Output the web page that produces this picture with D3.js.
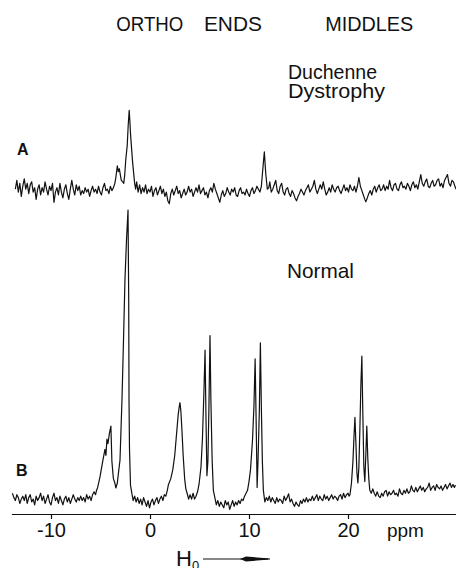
<!DOCTYPE html>
<html>
<head>
<meta charset="utf-8">
<script src="https://cdn.jsdelivr.net/npm/d3@7"></script>
<style>
  body { margin: 0; background: #fff; }
  svg { display: block; }
  text { font-family: "Liberation Sans", Arial, sans-serif; fill: #111; }
</style>
</head>
<body>
<script>
// chemical shift axis
const tickValues = [-10, 0, 10, 20];
const axisUnit = 'ppm';

// top assignments (left edge of each word, in ppm)
const regionLabels = [
  { text: 'ORTHO', ppm: -3.4, len: 67 },
  { text: 'ENDS', ppm: 5.45, len: 58 },
  { text: 'MIDDLES', ppm: 17.7, len: 88 }
];

// trace A: Duchenne dystrophy  [ppm, intensity]
const spectrumA = [
  [-13.6, 2], [-13.45, 5], [-13.3, 1], [-13.15, 4], [-13.0, -0.5], [-12.85, 3], [-12.7, 5.5],
  [-12.55, 2], [-12.4, 4], [-12.25, 0.5], [-12.1, 3.5], [-11.95, 4.5], [-11.8, 1], [-11.65, 2.5],
  [-11.5, -1.5], [-11.35, 2], [-11.2, 3.5], [-11.05, 0], [-10.9, 2.5], [-10.75, 1], [-10.6, 4.5],
  [-10.45, 2], [-10.3, 0], [-10.15, 3], [-10.0, 1.5], [-9.85, 4], [-9.7, -2.5], [-9.55, 1],
  [-9.4, 2.5], [-9.25, 0], [-9.1, 4], [-8.95, 1], [-8.8, -1], [-8.65, 2], [-8.5, 3.5],
  [-8.35, 0.5], [-8.2, -1.5], [-8.05, 2], [-7.9, 5], [-7.75, 2], [-7.6, 0], [-7.45, 3.5],
  [-7.3, 1.5], [-7.15, 3], [-7.0, 0], [-6.85, 1.5], [-6.7, 0.5], [-6.55, 2.5], [-6.4, 1],
  [-6.25, 2], [-6.1, -0.5], [-5.95, 1.5], [-5.8, 3], [-5.65, 1], [-5.5, 2], [-5.35, 0.5],
  [-5.2, 3], [-5.05, 1], [-4.9, 0], [-4.75, 2.5], [-4.6, 4], [-4.45, 1.5], [-4.3, 2],
  [-4.15, 0.5], [-4.0, 3], [-3.85, 1.5], [-3.7, 2.5], [-3.55, 4], [-3.45, 6], [-3.3, 10],
  [-3.2, 8], [-3.1, 9], [-3.0, 7], [-2.9, 5], [-2.75, 4.5], [-2.65, 4], [-2.55, 7],
  [-2.45, 12], [-2.3, 17], [-2.2, 24], [-2.1, 29], [-2.03, 25], [-1.95, 20], [-1.75, 11],
  [-1.55, 4], [-1.45, 2], [-1.35, 4.5], [-1.2, 1], [-1.05, 3.5], [-0.9, 0.5], [-0.75, 2.5],
  [-0.6, 1], [-0.45, 3.5], [-0.3, 0.5], [-0.15, 2], [0.0, 1], [0.15, 3], [0.3, -0.5],
  [0.45, 1.5], [0.6, 2.5], [0.75, 0], [0.9, 1.5], [1.05, 3], [1.2, 0.5], [1.35, 2],
  [1.5, -0.5], [1.65, 1], [1.8, -2], [1.95, -3], [2.1, 0.5], [2.25, 2], [2.4, 0],
  [2.55, 1.5], [2.7, 3], [2.85, 0.5], [3.0, 1.5], [3.15, -1], [3.3, 0.5], [3.45, 2],
  [3.6, 0], [3.75, 1], [3.9, 3], [4.05, 1], [4.2, 2], [4.35, -0.5], [4.5, 1],
  [4.65, 2.5], [4.8, 1], [4.95, 3.5], [5.1, 0.5], [5.25, 1.5], [5.4, 2.5], [5.55, 0],
  [5.7, 1], [5.85, -1], [6.0, 1.5], [6.15, 2.5], [6.3, 1], [6.45, 4], [6.6, 2],
  [6.75, 0.5], [6.9, -1], [7.05, -2.5], [7.2, 0], [7.35, 1.5], [7.5, -0.5], [7.65, 0.5],
  [7.8, 2.5], [7.95, 1], [8.1, 0], [8.25, 2], [8.4, 1], [8.55, 2.5], [8.7, 0],
  [8.85, -0.5], [9.0, 1.5], [9.15, 2.5], [9.3, 0.5], [9.45, 1], [9.6, 0], [9.75, 2],
  [9.9, 0.5], [10.05, -0.5], [10.2, 1.5], [10.35, 2.5], [10.5, 0.5], [10.65, 1.5], [10.8, 3],
  [10.95, 2], [11.1, 1], [11.25, 3], [11.35, 7], [11.45, 11], [11.55, 14.8], [11.62, 11],
  [11.7, 7], [11.85, 2], [12.0, 2.5], [12.1, 4.5], [12.25, 1], [12.4, 2], [12.55, 3.5],
  [12.7, 5], [12.85, 1.5], [13.0, 0.5], [13.15, 3], [13.3, 4], [13.45, 1], [13.6, 0],
  [13.75, 2], [13.9, 2.5], [14.05, 0.5], [14.2, -0.5], [14.35, 1.5], [14.5, 0.5], [14.65, -1],
  [14.8, -2], [14.95, -0.5], [15.1, 0.5], [15.25, 2], [15.4, 1], [15.55, 0], [15.7, 1.5],
  [15.85, 2.5], [16.0, 3.5], [16.15, 1], [16.3, 2], [16.45, 3], [16.6, 5], [16.75, 2],
  [16.9, 0.5], [17.05, 2], [17.2, 3.5], [17.35, 2], [17.5, 4.5], [17.65, 2], [17.8, 0],
  [17.95, 1], [18.1, 2.5], [18.25, 1], [18.4, 3.5], [18.55, 2], [18.7, 1], [18.85, 2.5],
  [19.0, 3], [19.15, 1.5], [19.3, 0.5], [19.45, 2], [19.6, 3.5], [19.75, 1.5], [19.9, 2.5],
  [20.05, 1], [20.2, 3.5], [20.35, 2], [20.5, 1.5], [20.65, 3], [20.8, 1], [20.95, 3],
  [21.1, 6], [21.25, 3], [21.4, 1.5], [21.55, 0], [21.7, -1.5], [21.8, -2.3], [21.95, -1],
  [22.1, 0.5], [22.25, 1.5], [22.4, 0], [22.55, 2], [22.7, 3], [22.85, 1], [23.0, 2.5],
  [23.15, 3.5], [23.3, 1.5], [23.45, 2], [23.6, 3.5], [23.75, 1.5], [23.9, 3], [24.05, 2],
  [24.2, 5], [24.35, 2.5], [24.5, 1.5], [24.65, 3.5], [24.8, 4], [24.95, 2], [25.1, 1.5],
  [25.25, 3.5], [25.4, 4.5], [25.55, 2.5], [25.7, 3], [25.85, 2], [26.0, 4], [26.15, 3],
  [26.3, 1.5], [26.45, 3.5], [26.6, 4.5], [26.75, 2.5], [26.9, 3.5], [27.05, 2], [27.2, 4.5],
  [27.35, 7], [27.5, 4], [27.65, 3], [27.8, 4.5], [27.95, 5.5], [28.1, 3], [28.25, 2.5],
  [28.4, 4], [28.55, 5], [28.7, 3], [28.85, 3.5], [29.0, 5], [29.15, 5.5], [29.3, 3],
  [29.45, 4], [29.6, 2.5], [29.75, 5], [29.9, 6], [30.05, 7], [30.2, 4], [30.35, 3],
  [30.5, 5], [30.65, 4.5], [30.8, 3], [30.9, 2]
];

// trace B: normal  [ppm, intensity]
const spectrumB = [
  [-13.9, 3], [-13.75, 1.5], [-13.6, 0.5], [-13.45, 2.5], [-13.3, 1.5], [-13.15, -0.5], [-13.0, 1],
  [-12.85, 2], [-12.7, 0.5], [-12.55, 2.5], [-12.4, -0.5], [-12.25, 1.5], [-12.1, 2.5], [-11.95, 0],
  [-11.8, 1], [-11.65, -1], [-11.5, 2], [-11.35, 0.5], [-11.2, 1.5], [-11.05, 3], [-10.9, 0.5],
  [-10.75, 2], [-10.6, -0.5], [-10.45, 1], [-10.3, 2.5], [-10.15, 0], [-10.0, -1], [-9.85, 1.5],
  [-9.7, 3], [-9.55, 0.5], [-9.4, 1.5], [-9.25, -0.5], [-9.1, 2], [-8.95, 0.5], [-8.8, -1],
  [-8.65, 1], [-8.5, 2], [-8.35, 0], [-8.2, 1.5], [-8.05, -0.5], [-7.9, 1], [-7.75, 2.5],
  [-7.6, 1], [-7.45, 0], [-7.3, 1.5], [-7.15, 0.5], [-7.0, 2], [-6.85, 0.5], [-6.7, 1.5],
  [-6.55, 0], [-6.4, 2.5], [-6.25, 1], [-6.1, 2], [-5.95, 0.5], [-5.8, 2.5], [-5.65, 3.5],
  [-5.5, 2.5], [-5.4, 4], [-5.3, 4.8], [-5.05, 8.6], [-4.75, 14.4], [-4.55, 18], [-4.45, 16],
  [-4.35, 21.5], [-4.25, 20], [-4.1, 23.5], [-3.95, 26], [-3.85, 14], [-3.7, 8], [-3.55, 6.5],
  [-3.45, 4.8], [-3.3, 6.5], [-3.15, 11], [-3.03, 14.4], [-2.93, 24.7], [-2.83, 35], [-2.68, 55],
  [-2.53, 76], [-2.37, 90], [-2.22, 100], [-2.15, 69], [-2.12, 35], [-2.07, 18], [-1.97, 5.8],
  [-1.82, 2.7], [-1.7, 0.5], [-1.55, 2], [-1.4, 0], [-1.25, 1.5], [-1.1, -0.5], [-0.95, 1],
  [-0.8, -1], [-0.65, 1.5], [-0.5, 0], [-0.35, -1.5], [-0.2, 0.5], [-0.05, -2], [0.1, 0],
  [0.25, 1], [0.4, -1], [0.55, 0.5], [0.7, 1.5], [0.85, -0.5], [1.0, 1], [1.15, 2],
  [1.3, 0.5], [1.45, 2.5], [1.6, 2], [1.75, 4], [1.85, 5.8], [2.1, 8], [2.3, 11],
  [2.5, 16], [2.7, 24], [2.85, 30], [2.97, 33], [3.03, 34], [3.12, 31], [3.22, 25],
  [3.35, 16], [3.5, 8], [3.62, 4.5], [3.75, 3], [3.9, 1], [4.05, 2.5], [4.2, 1],
  [4.35, 3], [4.5, 1], [4.65, 2], [4.8, 3.5], [4.95, 6], [5.15, 12], [5.3, 22],
  [5.45, 38], [5.56, 52], [5.65, 30], [5.75, 9], [5.85, 14], [5.95, 32], [6.06, 57],
  [6.15, 35], [6.28, 14], [6.4, 4], [6.55, 1.5], [6.7, -1], [6.85, 0.5], [7.0, -1.5],
  [7.15, 0], [7.3, -1], [7.45, -2], [7.6, 0.5], [7.75, -1], [7.9, 0], [8.05, -2.5],
  [8.2, -1], [8.35, 0.5], [8.5, -1.5], [8.65, 0], [8.8, -1], [8.95, 0.5], [9.1, -0.5],
  [9.25, 1], [9.4, 0.5], [9.55, 2], [9.7, 3], [9.85, 4], [10.0, 7], [10.15, 11],
  [10.35, 21], [10.5, 33], [10.62, 49], [10.72, 28], [10.82, 5], [10.92, 15], [11.05, 32],
  [11.15, 54.5], [11.25, 32], [11.35, 14], [11.45, 4], [11.6, 0], [11.75, 1.5], [11.9, 0.5],
  [12.05, 2], [12.2, 0], [12.35, 1.5], [12.5, 0.5], [12.65, -0.5], [12.8, 1.5], [12.95, 0],
  [13.1, 1], [13.25, 0.5], [13.4, -0.5], [13.55, 2], [13.7, 0.5], [13.85, 1.5], [14.0, 2.8],
  [14.15, 0], [14.3, 1], [14.45, -0.5], [14.6, -1.5], [14.75, 0], [14.9, -1], [15.05, -1.5],
  [15.2, 0.5], [15.35, -0.5], [15.5, 1], [15.65, 0], [15.8, 1.5], [15.95, 0], [16.1, 1],
  [16.25, 0.5], [16.4, 2], [16.55, 0.5], [16.7, 1.5], [16.85, 2.5], [17.0, 0.5], [17.15, 2],
  [17.3, 1], [17.45, 0.5], [17.6, 2.5], [17.75, 1], [17.9, 2], [18.05, 0.5], [18.2, 1.5],
  [18.35, 2.5], [18.5, 1], [18.65, 2], [18.8, 1.5], [18.95, 0.5], [19.1, 2], [19.25, 2.5],
  [19.4, 1], [19.55, 3], [19.7, 1.5], [19.85, 2.5], [20.0, 3], [20.1, 2], [20.2, 2.5],
  [20.35, 6.5], [20.5, 14], [20.6, 22], [20.7, 29], [20.8, 20], [20.9, 10], [21.0, 6.5],
  [21.1, 12], [21.2, 25], [21.3, 40], [21.4, 50], [21.5, 30], [21.6, 12], [21.7, 7],
  [21.8, 16], [21.9, 26], [22.0, 15], [22.1, 8], [22.2, 4], [22.35, 3], [22.5, 4.5],
  [22.65, 3], [22.8, 2], [22.95, 3.5], [23.1, 2], [23.25, 1.5], [23.4, 3], [23.55, 2],
  [23.7, 3.5], [23.85, 4], [24.0, 2], [24.15, 3.5], [24.3, 2.5], [24.45, 3], [24.6, 4],
  [24.75, 2.5], [24.9, 3], [25.05, 2], [25.2, 4.5], [25.35, 3], [25.5, 2.5], [25.65, 4],
  [25.8, 3], [25.95, 4.5], [26.1, 3], [26.25, 3.5], [26.4, 5.5], [26.55, 4], [26.7, 3.5],
  [26.85, 5], [27.0, 3.5], [27.15, 4.5], [27.3, 5.5], [27.45, 4], [27.6, 5], [27.75, 3.5],
  [27.9, 4.5], [28.05, 5], [28.2, 6.5], [28.35, 4], [28.5, 5], [28.65, 5.5], [28.8, 4],
  [28.95, 6], [29.1, 5], [29.25, 4.5], [29.4, 5.5], [29.55, 4], [29.7, 5], [29.85, 6],
  [30.0, 4.5], [30.15, 5.5], [30.3, 6.5], [30.45, 5], [30.6, 6], [30.75, 5], [30.85, 5.8]
];

const w = 456, h = 568;

const svg = d3.select('body')
  .append('svg')
  .attr('width', w)
  .attr('height', h);

// x: chemical shift, same for both traces
const x = d3.scaleLinear()
  .domain([-14, 31])
  .range([11.4, 456.9]);

// y: same intensity units, traces offset vertically
const yB = d3.scaleLinear().domain([0, 100]).range([502, 210]);
const yA = d3.scaleLinear().domain([0, 100]).range([195, -97]);

const lineB = d3.line().x(d => x(d[0])).y(d => yB(d[1]));
const lineA = d3.line().x(d => x(d[0])).y(d => yA(d[1]));

svg.append('path')
  .datum(spectrumA)
  .attr('d', lineA)
  .attr('fill', 'none')
  .attr('stroke', '#111')
  .attr('stroke-width', 1.2)
  .attr('stroke-linejoin', 'round');

svg.append('path')
  .datum(spectrumB)
  .attr('d', lineB)
  .attr('fill', 'none')
  .attr('stroke', '#111')
  .attr('stroke-width', 1.2)
  .attr('stroke-linejoin', 'round');

// axis
const axis = svg.append('g')
  .attr('transform', 'translate(0,514)')
  .call(d3.axisBottom(x)
    .tickValues(tickValues)
    .tickSize(5)
    .tickSizeOuter(0)
    .tickFormat(d => d < 0 ? '-' + Math.abs(d) : d));

axis.select('.domain').attr('stroke', '#111').attr('stroke-width', 1.2);
axis.selectAll('.tick line').attr('stroke', '#111').attr('stroke-width', 1.2);
axis.selectAll('.tick text')
  .attr('y', 23)
  .attr('dy', 0)
  .style('font-size', '20px')
  .style('font-family', '"Liberation Sans", Arial, sans-serif')
  .attr('fill', '#111');

svg.append('text')
  .attr('x', x(25.8))
  .attr('y', 537)
  .attr('text-anchor', 'middle')
  .style('font-size', '19px')
  .text(axisUnit);

// H0 with arrow
svg.append('text')
  .attr('x', 176)
  .attr('y', 566)
  .style('font-size', '22px')
  .text('H')
  .append('tspan')
  .attr('dy', 4)
  .style('font-size', '13px')
  .text('0');

svg.append('line')
  .attr('x1', 203).attr('x2', 268)
  .attr('y1', 559).attr('y2', 559)
  .attr('stroke', '#111')
  .attr('stroke-width', 1.2);

svg.append('path')
  .attr('d', 'M240,559 L246,556.6 L270,558.4 L270,559.6 L246,561.4 Z')
  .attr('fill', '#111');

// region labels at top
svg.selectAll('.region')
  .data(regionLabels)
  .enter()
  .append('text')
  .attr('class', 'region')
  .attr('x', d => x(d.ppm))
  .attr('y', 31)
  .attr('textLength', d => d.len)
  .attr('lengthAdjust', 'spacingAndGlyphs')
  .style('font-size', '20px')
  .text(d => d.text);

// trace labels
svg.append('text').attr('x', 288).attr('y', 79).style('font-size', '21px')
  .attr('textLength', 89).attr('lengthAdjust', 'spacingAndGlyphs').text('Duchenne');
svg.append('text').attr('x', 288).attr('y', 98).style('font-size', '21px')
  .attr('textLength', 97).attr('lengthAdjust', 'spacingAndGlyphs').text('Dystrophy');
svg.append('text').attr('x', 287).attr('y', 278).style('font-size', '21px')
  .attr('textLength', 67).attr('lengthAdjust', 'spacingAndGlyphs').text('Normal');

svg.append('text').attr('x', 17).attr('y', 155).style('font-size', '16px')
  .style('font-weight', 'bold').text('A');
svg.append('text').attr('x', 16).attr('y', 476).style('font-size', '16px')
  .style('font-weight', 'bold').text('B');
</script>
</body>
</html>
